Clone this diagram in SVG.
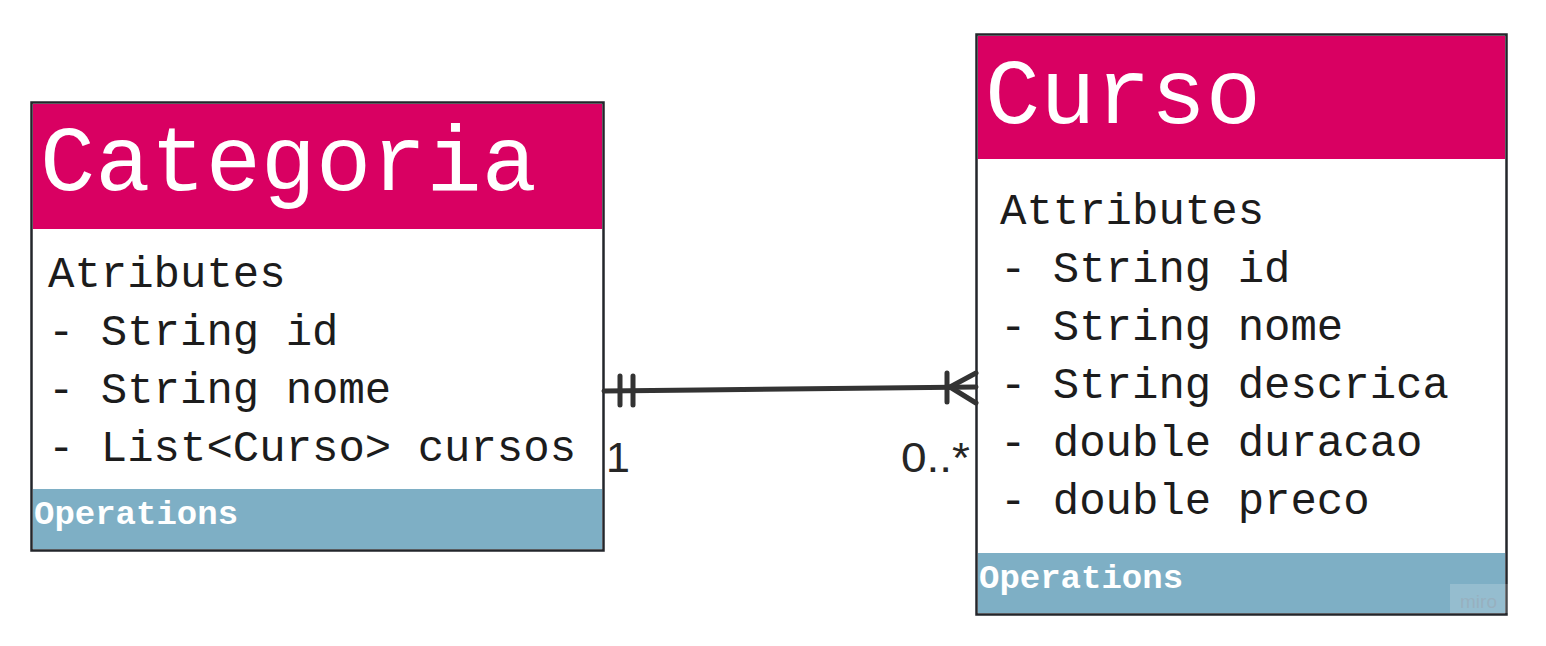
<svg xmlns="http://www.w3.org/2000/svg" width="1546" height="646" viewBox="0 0 1546 646">
<style>
.frame{fill:#ffffff;stroke:#23262b;stroke-width:2.5}
.head{fill:#d90062}
.ops{fill:#7eafc5}
.title{font-family:"Liberation Mono","DejaVu Sans Mono",monospace;font-size:92px;fill:#ffffff}
.attr{font-family:"Liberation Mono","DejaVu Sans Mono",monospace;font-size:44px;fill:#1c1c1c}
.opt{font-family:"Liberation Mono","DejaVu Sans Mono",monospace;font-size:34px;font-weight:bold;fill:#ffffff}
.conn{stroke:#333333;stroke-width:5;stroke-linecap:round;fill:none}
.card{font-family:"Liberation Sans","Open Sans",sans-serif;font-size:43px;fill:#262626}
</style>
<rect width="1546" height="646" fill="#ffffff"/>
<g id="categoria">
<rect class="frame" x="31.5" y="102.5" width="572" height="448"/>
<rect class="head" x="33" y="104" width="569" height="125"/>
<rect class="ops" x="33" y="489" width="569" height="60"/>
<text class="title" x="40" y="190">Categoria</text>
<text class="attr" x="48" y="287">Atributes</text>
<text class="attr" x="48" y="345">- String id</text>
<text class="attr" x="48" y="403">- String nome</text>
<text class="attr" x="48" y="461">- List&lt;Curso&gt; cursos</text>
<text class="opt" x="34" y="524">Operations</text>
</g>
<g id="curso">
<rect class="frame" x="976.5" y="34.5" width="530" height="580"/>
<rect class="head" x="978" y="36" width="527" height="123"/>
<rect class="ops" x="978" y="553" width="527" height="60"/>
<text class="title" x="985" y="123">Curso</text>
<text class="attr" x="1000" y="224">Attributes</text>
<text class="attr" x="1000" y="282">- String id</text>
<text class="attr" x="1000" y="340">- String nome</text>
<text class="attr" x="1000" y="398">- String descrica</text>
<text class="attr" x="1000" y="456">- double duracao</text>
<text class="attr" x="1000" y="514">- double preco</text>
<text class="opt" x="979" y="588">Operations</text>
<rect x="1450" y="584" width="58" height="29" fill="#ffffff" fill-opacity="0.18"/>
<text x="1460" y="608" font-family="Liberation Sans,sans-serif" font-size="19" fill="#9aa6b2" fill-opacity="0.55">miro</text>
</g>
<g id="connectors">
<path class="conn" d="M604 391 L700 390 L976 387"/>
<path class="conn" d="M620 376 V405 M633 376 V405"/>
<path class="conn" d="M947 373 V402 M950 387 L976 373 M950 387 L976 403"/>
<text class="card" x="606" y="472">1</text>
<text class="card" x="901" y="472" textLength="69" lengthAdjust="spacingAndGlyphs">0..*</text>
</g>
</svg>
